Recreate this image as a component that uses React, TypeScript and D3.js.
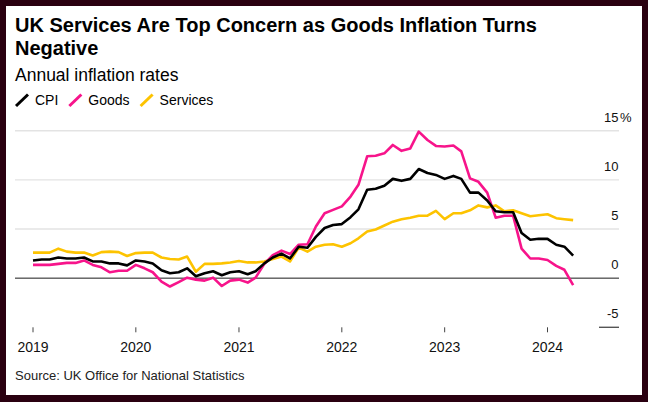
import { useRef, useEffect } from 'react'
import * as d3 from 'd3'

// Monthly annual rates, Jan 2019 .. Apr 2024 (%)
const START = new Date(2019, 0, 1)

const CPI = [
  1.8, 1.9, 1.9, 2.1, 2.0, 2.0, 2.1, 1.7, 1.7, 1.5, 1.5, 1.3,
  1.8, 1.7, 1.5, 0.8, 0.5, 0.6, 1.0, 0.2, 0.5, 0.7, 0.3, 0.6,
  0.7, 0.4, 0.7, 1.5, 2.1, 2.5, 2.0, 3.2, 3.1, 4.2, 5.1, 5.4,
  5.5, 6.2, 7.0, 9.0, 9.1, 9.4, 10.1, 9.9, 10.1, 11.1, 10.7, 10.5,
  10.1, 10.4, 10.1, 8.7, 8.7, 7.9, 6.8, 6.7, 6.7, 4.6, 3.9, 4.0,
  4.0, 3.4, 3.2, 2.3,
]

const GOODS = [
  1.35, 1.35, 1.35, 1.45, 1.55, 1.55, 1.8, 1.35, 1.1, 0.6, 0.75, 0.75,
  1.35, 1.0, 0.6, -0.35, -0.85, -0.4, 0.05, -0.15, -0.25, 0.05, -0.8, -0.25,
  -0.15, -0.45, 0.05, 1.45, 2.35, 2.8, 2.45, 3.4, 3.45, 5.25, 6.6, 6.95,
  7.3, 8.3, 9.5, 12.4, 12.45, 12.7, 13.55, 12.95, 13.2, 14.9, 14.05, 13.45,
  13.4, 13.5, 12.9, 10.15, 9.8, 8.7, 6.15, 6.35, 6.35, 3.0, 2.0, 2.0,
  1.85, 1.25, 0.85, -0.7,
]

const SERVICES = [
  2.6, 2.6, 2.6, 3.0, 2.7, 2.6, 2.6, 2.3, 2.65, 2.7, 2.65, 2.25,
  2.55, 2.6, 2.6, 2.1, 1.95, 1.9, 2.2, 0.65, 1.45, 1.45, 1.5, 1.6,
  1.75, 1.6, 1.6, 1.7, 1.95, 2.2, 1.7, 3.1, 2.7, 3.2, 3.4, 3.45,
  3.2, 3.55, 4.05, 4.75, 4.95, 5.35, 5.75, 6.0, 6.15, 6.35, 6.35, 6.85,
  6.0, 6.6, 6.6, 6.9, 7.4, 7.2, 7.4, 6.8, 6.9, 6.6, 6.3, 6.4,
  6.5, 6.1, 6.0, 5.9,
]

const Y_TICKS = [15, 10, 5, 0, -5]
const YEARS = [2019, 2020, 2021, 2022, 2023, 2024]

const SERIES = [
  { name: 'CPI', color: '#000000', values: CPI },
  { name: 'Goods', color: '#f7148b', values: GOODS },
  { name: 'Services', color: '#fdc300', values: SERVICES },
]

const FONT = '"Liberation Sans", Arial, sans-serif'

export default function App() {
  const svgRef = useRef<SVGSVGElement>(null)

  useEffect(() => {
    if (!svgRef.current) return
    const W = 648
    const H = 402
    const left = 15
    const right = 619

    const svg = d3.select(svgRef.current)
    svg.selectAll('*').remove()

    // frame
    svg.append('rect').attr('width', W).attr('height', H).attr('fill', '#2a0010')
    svg.append('rect').attr('x', 6).attr('y', 6).attr('width', 636).attr('height', 389).attr('fill', '#ffffff')

    // headings
    const title = svg.append('text')
      .attr('font-family', FONT).attr('font-weight', 700).attr('font-size', 20).attr('fill', '#000')
    title.append('tspan').attr('x', left).attr('y', 31.7).text('UK Services Are Top Concern as Goods Inflation Turns')
    title.append('tspan').attr('x', left).attr('y', 55).text('Negative')

    svg.append('text')
      .attr('x', left).attr('y', 81)
      .attr('font-family', FONT).attr('font-size', 17.5).attr('fill', '#000')
      .text('Annual inflation rates')

    // legend
    let lx = 16
    SERIES.forEach(s => {
      svg.append('line')
        .attr('x1', lx).attr('y1', 106).attr('x2', lx + 12).attr('y2', 94.5)
        .attr('stroke', s.color).attr('stroke-width', 3)
      const t = svg.append('text')
        .attr('x', lx + 19).attr('y', 104.5)
        .attr('font-family', FONT).attr('font-size', 14).attr('fill', '#000')
        .text(s.name)
      lx += 19 + (t.node() as SVGTextElement).getComputedTextLength() + 11
    })

    const x = d3.scaleTime()
      .domain([new Date(2019, 0, 1), new Date(2024, 0, 1)])
      .range([33, 547.5])
    const y = d3.scaleLinear().domain([-5, 15]).range([327.3, 130.7])

    // grid
    Y_TICKS.forEach(v => {
      const isZero = v === 0
      const isLast = v === -5
      svg.append('line')
        .attr('x1', isLast ? 599 : left).attr('x2', right)
        .attr('y1', y(v)).attr('y2', y(v))
        .attr('stroke', isZero ? '#1a1a1a' : isLast ? '#555' : '#e3e3e3')
        .attr('stroke-width', isZero ? 1 : 1.4)
      svg.append('text')
        .attr('x', 618.5).attr('y', y(v) - 9)
        .attr('text-anchor', 'end')
        .attr('font-family', FONT).attr('font-size', 13).attr('fill', '#111')
        .text(v)
      if (v === 15) {
        svg.append('text')
          .attr('x', 620).attr('y', y(v) - 9)
          .attr('font-family', FONT).attr('font-size', 13).attr('fill', '#111')
          .text('%')
      }
    })

    // x axis
    YEARS.forEach(yr => {
      const px = x(new Date(yr, 0, 1))
      svg.append('line')
        .attr('x1', px).attr('x2', px).attr('y1', 327.3).attr('y2', 332.3)
        .attr('stroke', '#444').attr('stroke-width', 1)
      svg.append('text')
        .attr('x', px).attr('y', 351.7)
        .attr('text-anchor', 'middle')
        .attr('font-family', FONT).attr('font-size', 14).attr('fill', '#111')
        .text(yr)
    })

    // lines
    const line = d3.line<number>()
      .x((_, i) => x(d3.timeMonth.offset(START, i)))
      .y(d => y(d))

    ;[SERIES[2], SERIES[1], SERIES[0]].forEach(s => {
      svg.append('path')
        .attr('d', line(s.values))
        .attr('fill', 'none')
        .attr('stroke', s.color)
        .attr('stroke-width', 2.6)
        .attr('stroke-linejoin', 'round')
    })

    svg.append('text')
      .attr('x', left).attr('y', 379.5)
      .attr('font-family', FONT).attr('font-size', 13).attr('fill', '#222')
      .text('Source: UK Office for National Statistics')
  }, [])

  return (
    <div style={{ position: 'fixed', left: 0, top: 0 }}>
      <svg ref={svgRef} width={648} height={402} style={{ display: 'block' }} />
    </div>
  )
}
